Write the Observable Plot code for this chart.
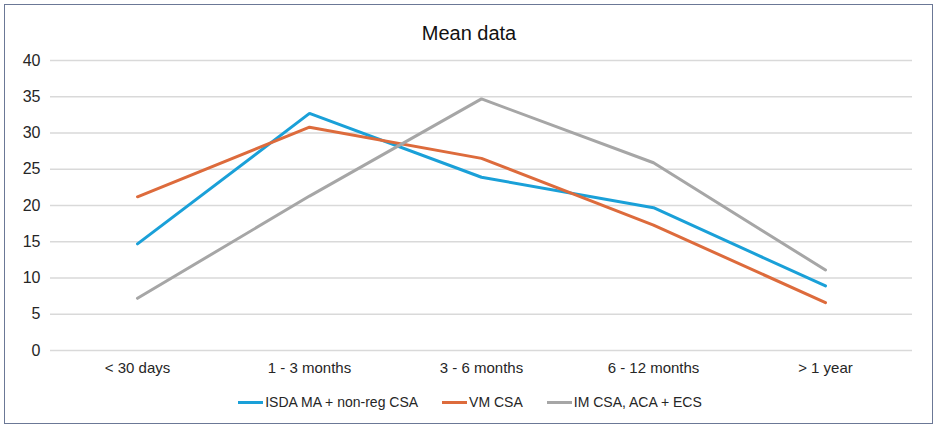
<!DOCTYPE html>
<html><head><meta charset="utf-8">
<script src="https://cdn.jsdelivr.net/npm/d3@7"></script>
<script src="https://cdn.jsdelivr.net/npm/@observablehq/plot@0.6"></script>
<style>
body{margin:0;background:#fff;font-family:"Liberation Sans",Arial,sans-serif;}
#wrap{position:relative;width:940px;height:430px;overflow:hidden;background:#fff;}
#frame{position:absolute;left:4px;top:4px;width:927px;height:418px;border:1.5px solid #6b7896;box-sizing:content-box;}
#title{position:absolute;left:0;width:938px;top:22px;text-align:center;font-size:20px;line-height:23px;color:#111;}
#chart{position:absolute;left:0;top:45px;}
#legend{position:absolute;left:0;width:940px;top:394px;display:flex;justify-content:center;font-size:14px;line-height:16px;color:#262626;}
.item{display:flex;align-items:center;margin:0 12px;}
.sw{width:25px;height:3px;margin-right:2px;}
</style></head>
<body>
<div id="wrap">
  <div id="frame"></div>
  <div id="title">Mean data</div>
  <div id="chart"></div>
  <div id="legend"></div>
</div>
<script>
const categories = ["< 30 days", "1 - 3 months", "3 - 6 months", "6 - 12 months", "> 1 year"];
const seriesNames = ["ISDA MA + non-reg CSA", "VM CSA", "IM CSA, ACA + ECS"];
const seriesColors = ["#1aa0d8", "#dd6b3c", "#a6a6a6"];
const isdaValues = [14.7, 32.7, 23.9, 19.7, 8.9];
const vmValues = [21.2, 30.8, 26.5, 17.3, 6.6];
const imValues = [7.2, 21.3, 34.7, 25.9, 11.1];
const yTicks = [0, 5, 10, 15, 20, 25, 30, 35, 40];

const seriesValues = [isdaValues, vmValues, imValues];
const rows = [];
seriesNames.forEach((s, i) => {
  categories.forEach((c, j) => rows.push({series: s, cat: c, value: seriesValues[i][j]}));
});

const chart = Plot.plot({
  width: 940,
  height: 340,
  marginLeft: 50,
  marginRight: 28,
  marginTop: 15,
  marginBottom: 35,
  style: {fontFamily: '"Liberation Sans", Arial, sans-serif', fontSize: "15px", color: "#262626", background: "transparent"},
  x: {type: "point", domain: categories, padding: 0.5, label: null},
  y: {domain: [0, 40], label: null},
  color: {domain: seriesNames, range: seriesColors},
  marks: [
    Plot.ruleY(yTicks, {stroke: "#d9d9d9", strokeWidth: 1.3}),
    Plot.axisY({ticks: yTicks, tickSize: 0, tickPadding: 10, label: null, fontSize: 16}),
    Plot.axisX({tickSize: 0, tickPadding: 12, label: null, fontSize: 15}),
    Plot.line(rows, {x: "cat", y: "value", z: "series", stroke: "series", strokeWidth: 3, strokeLinecap: "round", strokeLinejoin: "miter"})
  ]
});
document.getElementById("chart").appendChild(chart);

const legend = document.getElementById("legend");
seriesNames.forEach((s, i) => {
  const item = document.createElement("div");
  item.className = "item";
  const sw = document.createElement("span");
  sw.className = "sw";
  sw.style.background = seriesColors[i];
  const t = document.createElement("span");
  t.textContent = s;
  item.appendChild(sw);
  item.appendChild(t);
  legend.appendChild(item);
});
</script>
</body></html>
